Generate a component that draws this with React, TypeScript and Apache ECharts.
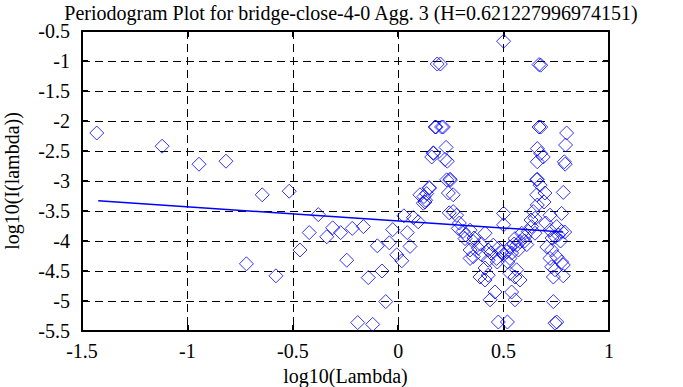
import React, { useEffect, useRef } from "react";
import * as echarts from "echarts";

const titleText = "Periodogram Plot for bridge-close-4-0 Agg. 3 (H=0.621227996974151)";
const xTicks = { min: -1.5, max: 1, step: 0.5 };
const yTicks = { min: -5.5, max: -0.5, step: 0.5 };

// log10(Lambda)
const logLambda: number[] = [
  -1.43, -1.12, -0.945, -0.817, -0.645, -0.517, -0.72, -0.58, -0.466, -0.422,
  -0.379, -0.339, -0.311, -0.273, -0.244, -0.218, -0.165, -0.192, -0.142, -0.121,
  -0.099, -0.077, -0.059, -0.042, -0.026, -0.007, 0.017, 0.027, 0.043, 0.056,
  0.072, 0.095, 0.103, 0.119, 0.13, 0.135, 0.147, 0.159, 0.167, 0.175,
  0.206, 0.222, 0.23, 0.238, 0.242,
  0.185, 0.2, 0.5, 0.668, 0.676, 0.18, 0.214, 0.668, 0.676, 0.799,
  0.794, 0.788, 0.792, 0.227, 0.167, 0.233, 0.66, 0.676, 0.66, 0.688,
  0.246, 0.66,
  0.246, 0.148, 0.261, 0.122, 0.127, 0.657, 0.657, 0.696, 0.692, 0.783,
  0.673, 0.261, 0.277, 0.5, 0.5, 0.641, 0.649, 0.72, 0.775, 0.285,
  0.308, 0.341, 0.317, 0.412, 0.356, 0.451, 0.475, 0.341, 0.38, 0.356,
  0.341, 0.396, 0.427, 0.427, 0.467, 0.491, 0.515, 0.53, 0.562, 0.578,
  0.601, 0.617, 0.633, 0.649, 0.586, 0.554, 0.538, 0.5, 0.53, 0.57,
  0.61, 0.72, 0.752, 0.775, 0.744, 0.705, 0.728, 0.72, 0.752, 0.775,
  0.728, 0.744, 0.783, 0.736, 0.783, 0.412, 0.388, 0.427, 0.412, 0.562,
  0.554, 0.578, 0.53, 0.459, 0.436, 0.538, 0.554, 0.736, 0.475, 0.518,
  0.744, 0.752,
  0.29, 0.32, 0.36, 0.39, 0.44, 0.47, 0.52, 0.55, 0.6, 0.63,
  0.66, 0.7, 0.76, 0.77, 0.73, 0.79
];

// log10(I(lambda))
const logPower: number[] = [
  -2.2, -2.42, -2.72, -2.67, -3.23, -3.17, -4.38, -4.58, -4.15, -3.86,
  -3.56, -3.93, -3.78, -3.86, -4.32, -3.79, -3.76, -5.36, -4.61, -5.39,
  -4.08, -4.5, -5.01, -4.03, -3.81, -4.23, -4.33, -3.58, -3.86, -4.09,
  -3.61, -3.68, -3.23, -3.37, -3.32, -3.21, -3.11, -2.6, -2.53, -2.1,
  -2.1, -2.64, -2.98, -3.2, -3.53,
  -1.05, -1.05, -0.67, -1.06, -1.07, -2.1, -2.1, -2.1, -2.1, -2.2,
  -2.4, -2.68, -2.72, -2.44, -2.54, -2.67, -2.46, -2.54, -2.68, -2.6,
  -2.97, -2.97,
  -2.99, -3.12, -3.23, -3.26, -3.35, -2.98, -3.23, -3.2, -3.35, -3.19,
  -3.07, -3.51, -3.57, -3.54, -3.73, -3.51, -3.62, -3.57, -3.54, -3.79,
  -3.84, -3.82, -3.96, -3.87, -4.01, -4.07, -4.12, -4.15, -4.12, -4.26,
  -4.29, -4.23, -4.15, -4.32, -4.29, -4.18, -4.18, -4.1, -4.07, -4.01,
  -3.93, -3.84, -3.76, -3.87, -3.87, -3.96, -4.2, -4.23, -4.29, -4.15,
  -4.06, -3.82, -3.76, -3.84, -3.93, -4.1, -4.15, -4.29, -4.26, -4.35,
  -4.43, -4.48, -4.4, -4.6, -4.58, -4.45, -4.6, -4.57, -4.65, -4.48,
  -4.6, -4.65, -4.54, -4.85, -4.98, -4.85, -4.98, -5.01, -5.35, -5.35,
  -5.37, -5.35,
  -3.7, -3.9, -3.95, -4.05, -4.2, -4.35, -4.35, -4.05, -4.0, -3.65,
  -3.4, -3.7, -3.9, -4.0, -3.95, -3.85
];

// least-squares fit line end points
const fitX: number[] = [-1.423, 0.782];
const fitY: number[] = [-3.33, -3.85];

const FONT = "'Liberation Serif', 'DejaVu Serif', serif";

export default function App() {
  const ref = useRef<HTMLDivElement>(null);
  useEffect(() => {
    if (!ref.current) return;
    const chart = echarts.init(ref.current, null, { renderer: "svg" });
    const pts = logLambda.map((x, i) => [x, logPower[i]]);
    const fit = fitX.map((x, i) => [x, fitY[i]]);
    const axisCommon = {
      axisLine: { show: true, onZero: false, lineStyle: { color: "#000", width: 2 } },
      axisTick: { show: true, inside: true, length: 6, lineStyle: { color: "#000", width: 2 } },
    };
    chart.setOption({
      animation: false,
      backgroundColor: "#fff",
      title: {
        text: titleText,
        left: 346,
        textAlign: "center",
        top: -2,
        textStyle: { fontFamily: FONT, fontSize: 20, fontWeight: "normal", color: "#000" },
      },
      grid: {
        left: 82,
        right: 74,
        top: 31,
        bottom: 56,
        containLabel: false,
        outerBoundsMode: "none",
      },
      xAxis: [
        {
          type: "value",
          min: xTicks.min,
          max: xTicks.max,
          interval: xTicks.step,
          position: "bottom",
          ...axisCommon,
          axisLabel: { color: "#000", fontFamily: FONT, fontSize: 20, margin: 10 },
          splitLine: { show: true, lineStyle: { color: "#000", type: [8, 5], width: 1 } },
          name: "log10(Lambda)",
          nameLocation: "middle",
          nameGap: 35,
          nameTextStyle: { color: "#000", fontFamily: FONT, fontSize: 20 },
        },
        {
          type: "value",
          min: xTicks.min,
          max: xTicks.max,
          interval: xTicks.step,
          position: "top",
          ...axisCommon,
          axisLabel: { show: false },
          splitLine: { show: false },
        },
      ],
      yAxis: [
        {
          type: "value",
          min: yTicks.min,
          max: yTicks.max,
          interval: yTicks.step,
          position: "left",
          ...axisCommon,
          axisLabel: { color: "#000", fontFamily: FONT, fontSize: 20, margin: 12 },
          splitLine: { show: true, lineStyle: { color: "#000", type: [8, 5], width: 1 } },
          name: "log10(I(lambda))",
          nameLocation: "middle",
          nameGap: 60,
          nameRotate: 90,
          nameTextStyle: { color: "#000", fontFamily: FONT, fontSize: 20 },
        },
        {
          type: "value",
          min: yTicks.min,
          max: yTicks.max,
          interval: yTicks.step,
          position: "right",
          ...axisCommon,
          axisLabel: { show: false },
          splitLine: { show: false },
        },
      ],
      series: [
        {
          type: "scatter",
          data: pts,
          symbol: "diamond",
          symbolSize: 14,
          itemStyle: { color: "rgba(0,0,0,0)", borderColor: "#0000ff", borderWidth: 1 },
        },
        {
          type: "line",
          data: fit,
          symbol: "none",
          lineStyle: { color: "#0000ff", width: 1.5 },
        },
      ],
    });
    return () => chart.dispose();
  }, []);
  return (
    <div
      ref={ref}
      style={{ position: "fixed", left: 0, top: 0, width: 683, height: 387, background: "#fff" }}
    />
  );
}
